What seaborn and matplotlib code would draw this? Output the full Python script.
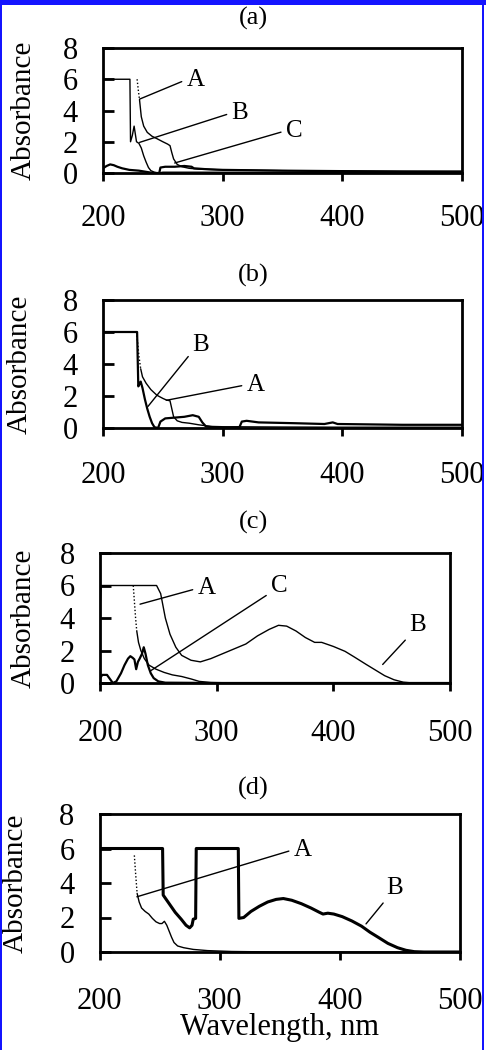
import numpy as np
import pandas as pd
import seaborn as sns
import matplotlib.pyplot as plt
from matplotlib.patches import Rectangle

sns.set_style("ticks")
plt.rcParams['font.family'] = ['Liberation Serif', 'DejaVu Serif']
plt.rcParams.update({'text.color': 'black', 'axes.labelcolor': 'black',
                     'xtick.color': 'black', 'ytick.color': 'black',
                     'axes.edgecolor': 'black'})

# ---- panel (a) ----
a_A_wl = [228.5, 229.5, 230.5, 232, 234, 237, 241, 245, 250, 254, 256, 257.5, 259, 262, 266, 272, 280, 300, 350, 400, 450, 500]
a_A_ab = [6.0, 5.3, 4.7, 3.6, 3.0, 2.6, 2.35, 2.2, 2.0, 1.85, 1.75, 1.3, 0.9, 0.55, 0.4, 0.3, 0.25, 0.2, 0.15, 0.12, 0.1, 0.08]
a_A_dot = 2  # index where dotted part ends
a_B_wl = [200, 222.5, 223, 224.5, 226, 227, 228, 230, 232, 234, 236, 238, 240, 243, 246, 250, 260, 280, 500]
a_B_ab = [6.0, 6.0, 2.0, 2.4, 3.0, 2.5, 2.0, 1.9, 1.6, 1.1, 0.7, 0.35, 0.15, 0.05, 0.0, 0.05, 0.05, 0.05, 0.02]
a_C_wl = [200, 203, 206, 209, 212, 216, 222, 230, 238, 242, 247, 248, 252, 260, 268, 274, 276, 285, 300, 350, 400, 450, 500]
a_C_ab = [0.3, 0.45, 0.55, 0.5, 0.4, 0.3, 0.2, 0.15, 0.05, 0.0, 0.0, 0.35, 0.4, 0.4, 0.45, 0.4, 0.3, 0.25, 0.2, 0.15, 0.12, 0.1, 0.1]

# ---- panel (b) ----
b_A_wl = [228, 229, 230, 231.5, 233, 236, 240, 245, 250, 253, 256, 257.5, 259, 262, 266, 272, 280, 290, 300, 350, 400, 500]
b_A_ab = [6.0, 5.3, 4.5, 3.7, 3.2, 2.8, 2.4, 2.05, 1.85, 1.75, 1.7, 1.2, 0.7, 0.45, 0.35, 0.3, 0.2, 0.1, 0.08, 0.06, 0.05, 0.05]
b_A_dot = 3
b_B_wl = [200, 228.5, 229.5, 230.5, 231.5, 233, 235, 237, 239, 241, 243, 246, 248, 252, 260, 268, 275, 280, 283, 286, 292, 300,
          314, 316, 320, 330, 360, 385, 392, 396, 450, 500]
b_B_ab = [6.0, 6.0, 2.6, 2.75, 2.9, 2.5, 1.8, 1.2, 0.7, 0.3, 0.05, 0.0, 0.4, 0.6, 0.65, 0.7, 0.8, 0.7, 0.35, 0.1, 0.05, 0.0,
          0.05, 0.4, 0.45, 0.35, 0.3, 0.25, 0.35, 0.25, 0.2, 0.2]

# ---- panel (c) ----
c_A_wl = [228.5, 229.5, 230.5, 231.5, 233, 235, 238, 242, 248, 255, 262, 270, 278, 285, 295, 320, 500]
c_A_ab = [6.0, 5.0, 4.0, 3.2, 2.5, 2.0, 1.5, 1.1, 0.85, 0.65, 0.5, 0.4, 0.25, 0.1, 0.03, 0.0, 0.0]
c_A_dot = 3
c_B_wl = [200, 201, 248.5, 252, 256, 260, 265, 270, 278, 286, 295, 305, 315, 325, 335, 345, 353, 360, 368, 376, 384, 390,
          400, 410, 418, 428, 436, 444, 452, 460, 468, 500]
c_B_ab = [4.5, 6.0, 6.0, 5.5, 4.0, 3.0, 2.2, 1.7, 1.4, 1.3, 1.5, 1.8, 2.1, 2.4, 2.9, 3.3, 3.55, 3.5, 3.2, 2.8, 2.5, 2.5,
          2.25, 1.95, 1.6, 1.15, 0.8, 0.45, 0.2, 0.05, 0.0, 0.0]
c_C_wl = [200, 202, 206, 208, 211, 214, 218, 221, 224, 226, 228, 229.5, 231, 232.5, 234, 236, 237.5, 239, 241, 243.5, 246, 250, 256, 300, 500]
c_C_ab = [0.3, 0.5, 0.5, 0.3, 0.0, 0.1, 0.6, 1.1, 1.5, 1.65, 1.55, 1.45, 0.85, 1.3, 1.5, 1.8, 2.2, 1.8, 1.1, 0.6, 0.3, 0.1, 0.02, 0.0, 0.0]

# ---- panel (d) ----
d_A_wl = [229, 230, 231.3, 233, 235, 238, 241, 244, 247, 250, 252, 254, 256, 258, 260, 262, 265, 270, 278, 290, 310, 350, 500]
d_A_ab = [5.6, 4.6, 3.4, 2.9, 2.55, 2.35, 2.2, 1.95, 1.75, 1.65, 1.65, 1.78, 1.55, 1.2, 0.85, 0.55, 0.35, 0.25, 0.15, 0.08, 0.03, 0.0, 0.0]
d_A_dot = 2
d_B_wl = [200, 252.5, 253, 258, 263, 268, 272, 275, 277, 278, 280, 280.5, 315.5, 316, 320, 326, 333, 340, 347, 353, 360, 368,
          376, 383, 386, 390, 395, 402, 410, 418, 425, 432, 440, 448, 455, 462, 470, 500]
d_B_ab = [6.0, 6.0, 3.3, 2.8, 2.3, 1.9, 1.55, 1.4, 1.55, 1.9, 1.95, 6.0, 6.0, 1.95, 2.0, 2.35, 2.65, 2.9, 3.05, 3.1, 3.0, 2.8,
          2.55, 2.3, 2.2, 2.25, 2.2, 2.05, 1.8, 1.5, 1.15, 0.85, 0.5, 0.25, 0.1, 0.02, 0.0, 0.0]

x_ticks = [200, 300, 400, 500]
y_ticks = [0, 2, 4, 6, 8]
titles = ['(a)', '(b)', '(c)', '(d)']

fig = plt.figure(figsize=(4.86, 10.5), dpi=100)

# axes rectangles (pixels: left, top, right, bottom)
boxes = [(103, 48, 462, 173), (103, 300, 462, 428), (100, 553, 450, 683), (99.5, 814, 460, 952)]
title_y = [18, 275, 522, 788]
xpads = [16, 18, 20, 19]
ylab_right = [37, 33, 37, 29]   # right edge of the rotated y label, px
W, H = 486, 1050


def line(ax, wl, ab, lw=1.0, dot=None):
    if dot is not None:
        sns.lineplot(x=wl[:dot + 1], y=ab[:dot + 1], ax=ax, color='black', lw=lw,
                     linestyle=(0, (1, 1.5)), estimator=None, sort=False)
        wl, ab = wl[dot:], ab[dot:]
    sns.lineplot(x=wl, y=ab, ax=ax, color='black', lw=lw, estimator=None, sort=False)


def label(ax, txt, xy, xytext, rel=(0, 0.5)):
    ax.annotate(txt, xy=xy, xytext=xytext, fontsize=18, ha='left', va='center',
                arrowprops=dict(arrowstyle='-', lw=1.0, color='black',
                                shrinkA=1, shrinkB=0, relpos=rel))


axes = []
for i, (l, t, r, b) in enumerate(boxes):
    ax = fig.add_axes([l / W, 1 - b / H, (r - l) / W, (b - t) / H])
    ax.set_xlim(200, 500)
    ax.set_ylim(0, 8)
    ax.set_xticks(x_ticks)
    ax.set_yticks(y_ticks)
    ax.tick_params(axis='y', direction='in', length=8, width=2, pad=18, labelsize=22)
    ax.tick_params(axis='x', direction='out', length=6, width=2, pad=xpads[i], labelsize=22)
    for s in ax.spines.values():
        s.set_linewidth(2)
        s.set_visible(True)
    ax.set_ylabel('Absorbance', fontsize=21)
    ax.yaxis.set_label_coords((ylab_right[i] - l) / (r - l), 0.5)
    ax.set_xlabel('')
    fig.text(253 / W, 1 - title_y[i] / H, titles[i], fontsize=19, ha='center', va='center')
    axes.append(ax)

ax = axes[0]
line(ax, a_C_wl, a_C_ab, lw=1.6)
line(ax, a_B_wl, a_B_ab)
line(ax, a_A_wl, a_A_ab, dot=a_A_dot)
label(ax, 'A', (230.6, 4.73), (269.6, 5.97))
label(ax, 'B', (230.6, 1.96), (307.2, 3.84))
label(ax, 'C', (259.9, 0.64), (352.6, 2.7))

ax = axes[1]
line(ax, b_B_wl, b_B_ab, lw=1.6)
line(ax, b_A_wl, b_A_ab, dot=b_A_dot)
label(ax, 'B', (237.6, 1.35), (274.7, 5.2), rel=(0, 0.2))
label(ax, 'A', (252.9, 1.73), (319.8, 2.7))

ax = axes[2]
line(ax, c_C_wl, c_C_ab, lw=1.6)
line(ax, c_B_wl, c_B_ab)
line(ax, c_A_wl, c_A_ab, dot=c_A_dot)
label(ax, 'A', (234.3, 4.85), (283.4, 5.82))
label(ax, 'C', (242.9, 0.73), (346.3, 5.97), rel=(0, 0.2))
label(ax, 'B', (442.3, 1.14), (465.1, 3.58), rel=(0, 0.0))

ax = axes[3]
line(ax, d_B_wl, d_B_ab, lw=2.2)
line(ax, d_A_wl, d_A_ab, dot=d_A_dot)
label(ax, 'A', (231.1, 3.2), (361.4, 5.93))
label(ax, 'B', (421.8, 1.63), (439.0, 3.73), rel=(0, 0.0))
ax.set_xlabel('Wavelength, nm', fontsize=22)
ax.xaxis.set_label_coords(0.5, (952 - 1013) / (952 - 814))

# thin blue frame around the figure, as in the scanned page
fig.add_artist(Rectangle((0, 1 - 5 / H), 1, 5 / H, transform=fig.transFigure, color='#1414ff', lw=0))
fig.add_artist(Rectangle((0, 0), 2 / W, 1, transform=fig.transFigure, color='#1414ff', lw=0))
fig.add_artist(Rectangle((482 / W, 0), 2 / W, 1, transform=fig.transFigure, color='#1414ff', lw=0))

fig.savefig('out.png', dpi=100)
